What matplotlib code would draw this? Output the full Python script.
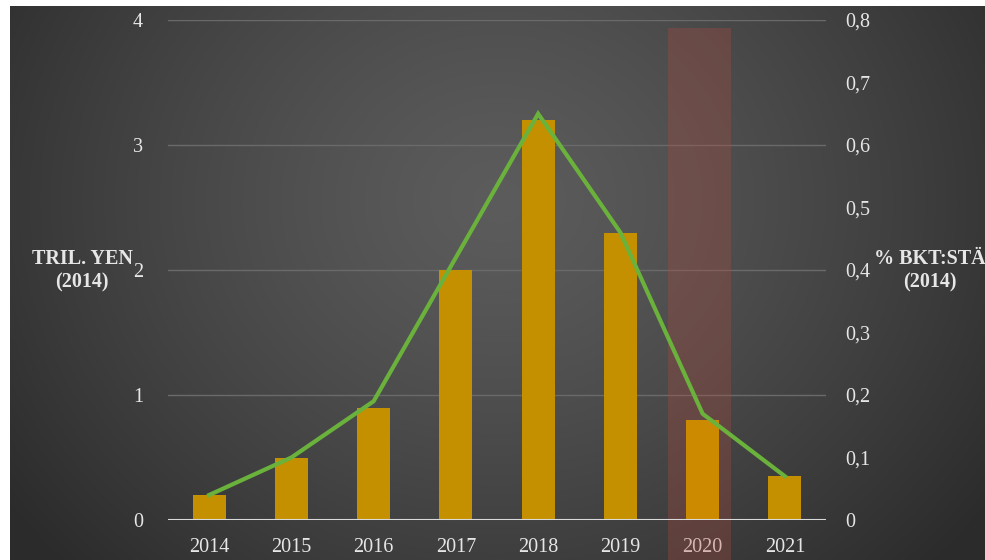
import numpy as np
import matplotlib
matplotlib.use("Agg")
import matplotlib.pyplot as plt
from matplotlib.patches import Rectangle

years = ["2014", "2015", "2016", "2017", "2018", "2019", "2020", "2021"]
bar_values = [0.2, 0.5, 0.9, 2.0, 3.2, 2.3, 0.8, 0.35]
line_values = [0.04, 0.10, 0.19, 0.42, 0.65, 0.46, 0.17, 0.07]
left_ticks = [0, 1, 2, 3, 4]
right_ticks = [0, 0.1, 0.2, 0.3, 0.4, 0.5, 0.6, 0.7, 0.8]
right_tick_labels = ["0", "0,1", "0,2", "0,3", "0,4", "0,5", "0,6", "0,7", "0,8"]
highlight_year = "2020"

W, H = 985, 560
fig = plt.figure(figsize=(W / 100, H / 100), dpi=100)
fig.patch.set_facecolor("white")

# background with radial gradient
bg = fig.add_axes([10 / W, 0, 1 - 10 / W, 1 - 6 / H])
bg.set_axis_off()
ny, nx = 300, 500
yy, xx = np.mgrid[0:ny, 0:nx]
cx, cy = nx * 0.5, ny * 0.35
r = np.sqrt(((xx - cx) / (nx * 0.62)) ** 2 + ((yy - cy) / (ny * 0.95)) ** 2)
r = np.clip(r, 0, 1)
light, dark = 0.36, 0.17
val = light - (light - dark) * r ** 1.3
img = np.dstack([val, val, val])
bg.imshow(img, aspect="auto", extent=[0, 1, 0, 1], origin="upper")
bg.set_xlim(0, 1)
bg.set_ylim(0, 1)

ax = fig.add_axes([168 / W, 1 - 520 / H, (826 - 168) / W, 500 / H])
ax.patch.set_alpha(0)
x = np.arange(len(years))
ax.set_xlim(-0.5, len(years) - 0.5)
ax.set_ylim(0, 4)

for t in left_ticks[1:]:
    ax.axhline(t, color="#6a6a6a", lw=1.0, zorder=1)
ax.axhline(0, color="#d9d9d9", lw=1.5, zorder=4)

hi = years.index(highlight_year)
colors = ["#c49000"] * len(years)
colors[hi] = "#cc8a00"
ax.bar(x, bar_values, width=0.4, color=colors, zorder=2.5)

# highlight
trans = ax.get_xaxis_transform()
rect = Rectangle((hi - 0.42, -0.08), 0.77, 0.985 + 0.08, transform=trans,
                 facecolor="#b04a40", alpha=0.30, edgecolor="none",
                 clip_on=False, zorder=2)
ax.add_patch(rect)

for s in ax.spines.values():
    s.set_visible(False)
ax.set_yticks(left_ticks)
ax.set_yticklabels([str(t) for t in left_ticks])
ax.set_xticks(x)
ax.set_xticklabels(years)
ax.tick_params(axis="both", length=0, colors="#e6e6e6", labelsize=14.5)
ax.tick_params(axis="y", pad=18)
ax.tick_params(axis="x", pad=13)
for lab in ax.get_xticklabels() + ax.get_yticklabels():
    lab.set_family(["Liberation Serif", "DejaVu Serif"])

ax2 = ax.twinx()
ax2.set_ylim(0, 0.8)
ax2.plot(x, line_values, color="#6ab23c", lw=3, zorder=5, solid_joinstyle="miter")
for s in ax2.spines.values():
    s.set_visible(False)
ax2.set_yticks(right_ticks)
ax2.set_yticklabels(right_tick_labels)
ax2.tick_params(axis="y", length=0, colors="#e6e6e6", labelsize=14.5, pad=14)
for lab in ax2.get_yticklabels():
    lab.set_family(["Liberation Serif", "DejaVu Serif"])

fig.text(82 / W, 1 - 271 / H, "TRIL. YEN\n(2014)", ha="center", va="center",
         color="#e6e6e6", fontsize=14.5, fontweight="bold",
         family=["Liberation Serif", "DejaVu Serif"], linespacing=1.25)
fig.text(930 / W, 1 - 271 / H, "% BKT:STÄ\n(2014)", ha="center", va="center",
         color="#e6e6e6", fontsize=14.5, fontweight="bold",
         family=["Liberation Serif", "DejaVu Serif"], linespacing=1.25)

fig.savefig("out.png", dpi=100, facecolor=fig.get_facecolor())
